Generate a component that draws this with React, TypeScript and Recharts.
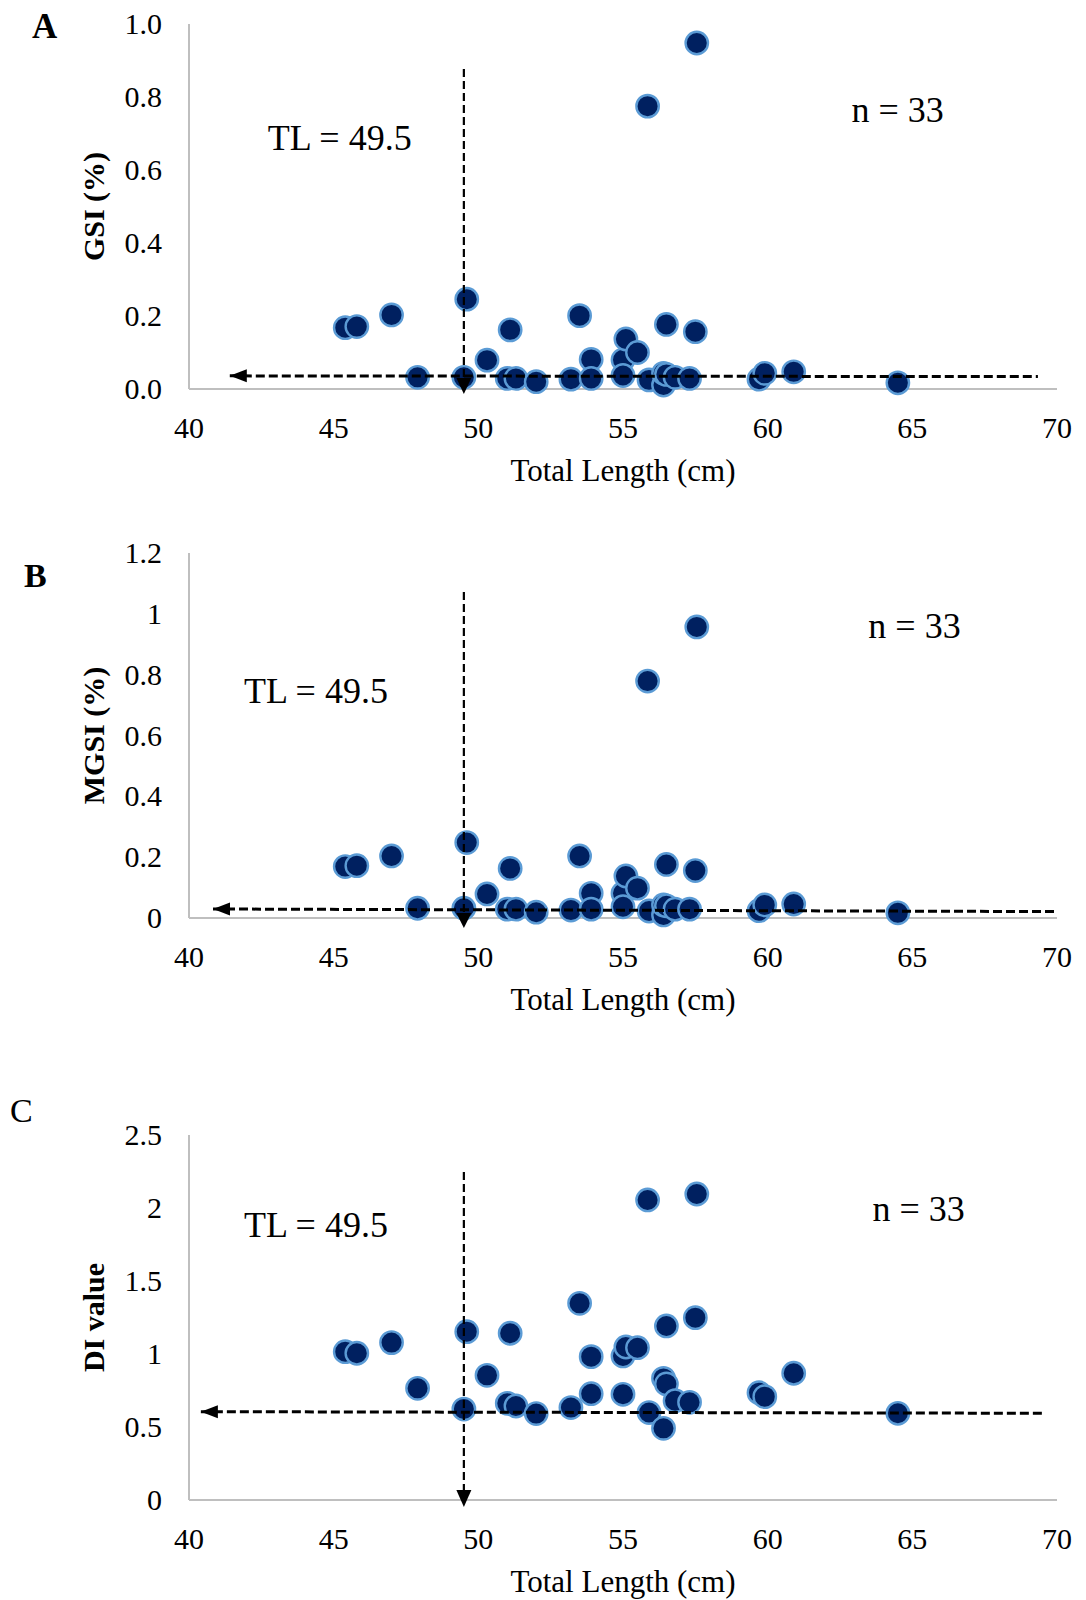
import React from 'react';
import {
  ScatterChart,
  Scatter,
  XAxis,
  YAxis,
  ReferenceLine,
  ReferenceDot,
} from 'recharts';

// ---- data ----
const totalLength = [
  45.4, 45.8, 47.0, 47.9, 49.6, 49.5, 50.3, 51.1, 51.0, 51.3, 52.0, 53.2, 53.5,
  53.9, 53.9, 55.0, 55.1, 55.5, 55.0, 55.9, 55.85, 57.55, 56.4, 56.4, 56.5, 56.8,
  57.3, 56.5, 57.5, 59.7, 59.9, 60.9, 64.5,
];
const gsi = [
  0.168, 0.171, 0.203, 0.032, 0.246, 0.032, 0.079, 0.162, 0.029, 0.029, 0.02,
  0.027, 0.201, 0.081, 0.029, 0.08, 0.137, 0.1, 0.037, 0.025, 0.775, 0.948,
  0.011, 0.043, 0.04, 0.032, 0.029, 0.177, 0.157, 0.027, 0.043, 0.047, 0.017,
];
const mgsi = [
  0.169, 0.172, 0.204, 0.032, 0.248, 0.032, 0.079, 0.163, 0.029, 0.029, 0.019,
  0.026, 0.204, 0.081, 0.029, 0.081, 0.138, 0.098, 0.037, 0.023, 0.779, 0.957,
  0.01, 0.043, 0.04, 0.029, 0.029, 0.176, 0.156, 0.024, 0.043, 0.046, 0.017,
];
const diValue = [
  1.016, 1.005, 1.078, 0.765, 1.153, 0.623, 0.854, 1.142, 0.662, 0.644, 0.592,
  0.633, 1.347, 0.982, 0.728, 0.987, 1.048, 1.043, 0.724, 0.599, 2.055, 2.096,
  0.491, 0.833, 0.795, 0.68, 0.669, 1.192, 1.249, 0.735, 0.708, 0.868, 0.594,
];

const xTicks = [40, 45, 50, 55, 60, 65, 70];
const gsiTicks = [0, 0.2, 0.4, 0.6, 0.8, 1.0];
const mgsiTicks = [0, 0.2, 0.4, 0.6, 0.8, 1, 1.2];
const diTicks = [0, 0.5, 1, 1.5, 2, 2.5];

const maturityTL = 49.5;

const FONT = "'Liberation Serif', 'Times New Roman', serif";
const FILL = '#002060';
const EDGE = '#5B9BD5';
const AXIS = '#BFBFBF';

const toPoints = (ys: number[]) => totalLength.map((x, i) => ({ x, y: ys[i] }));

const Marker = (props: any) => {
  const { cx, cy } = props;
  if (cx == null || cy == null) return null;
  return <circle cx={cx} cy={cy} r={11.2} fill={FILL} stroke={EDGE} strokeWidth={2.4} />;
};

const XTick = (props: any) => {
  const { x, y, payload } = props;
  return (
    <text x={x} y={y + 49} textAnchor="middle" fontFamily={FONT} fontSize={30} fill="#000">
      {payload.value}
    </text>
  );
};

const makeYTick = (fmt: (v: number) => string) => (props: any) => {
  const { y, payload } = props;
  return (
    <text x={162} y={y + 10} textAnchor="end" fontFamily={FONT} fontSize={30} fill="#000">
      {fmt(payload.value)}
    </text>
  );
};

const xTitle = (props: any) => {
  const vb = props.viewBox || {};
  return (
    <text x={vb.x + vb.width / 2} y={vb.y + 92} textAnchor="middle" fontFamily={FONT} fontSize={31} fill="#000">
      Total Length (cm)
    </text>
  );
};

const makeYTitle = (label: string) => (props: any) => {
  const vb = props.viewBox || {};
  const cy = vb.y + vb.height / 2;
  return (
    <text
      x={104}
      y={cy}
      transform={`rotate(-90 104 ${cy})`}
      textAnchor="middle"
      fontFamily={FONT}
      fontSize={30}
      fontWeight="bold"
      fill="#000"
    >
      {label}
    </text>
  );
};

const textShape = (label: string) => (props: any) => {
  const { cx, cy } = props;
  return (
    <text x={cx} y={cy} textAnchor="start" fontFamily={FONT} fontSize={36} fill="#000">
      {label}
    </text>
  );
};

const downArrow = (up: number, down: number) => (props: any) => {
  const { cx, cy } = props;
  return (
    <polygon
      points={`${cx - 7.5},${cy - up} ${cx + 7.5},${cy - up} ${cx},${cy + down}`}
      fill="#000"
    />
  );
};

const leftArrow = (props: any) => {
  const { cx, cy } = props;
  return <polygon points={`${cx},${cy} ${cx + 17},${cy - 6.5} ${cx + 17},${cy + 6.5}`} fill="#000" />;
};

type PanelProps = {
  top: number;
  height: number;
  marginTop: number;
  ys: number[];
  domainMax: number;
  ticks: number[];
  fmt: (v: number) => string;
  yLabel: string;
  vTop: number;
  arrowUp: number;
  arrowDown: number;
  hLeft: { x: number; y: number };
  hRight: { x: number; y: number };
  tlPos: { x: number; y: number };
  nPos: { x: number; y: number };
};

const Panel = (p: PanelProps) => {
  const bottomSpace = p.height - p.marginTop - 365;
  return (
    <div style={{ position: 'absolute', left: 0, top: p.top, width: 1086, height: p.height }}>
      <ScatterChart
        width={1086}
        height={p.height}
        margin={{ top: p.marginTop, right: 29, bottom: bottomSpace - 60, left: 0 }}
      >
        <XAxis
          type="number"
          dataKey="x"
          domain={[40, 70]}
          ticks={xTicks}
          tick={<XTick />}
          tickLine={false}
          tickSize={0}
          tickMargin={0}
          height={60}
          axisLine={{ stroke: AXIS, strokeWidth: 2 }}
          label={{ content: xTitle }}
          interval={0}
        />
        <YAxis
          type="number"
          dataKey="y"
          domain={[0, p.domainMax]}
          ticks={p.ticks}
          tick={makeYTick(p.fmt)}
          tickLine={false}
          tickSize={0}
          tickMargin={0}
          width={189}
          axisLine={{ stroke: AXIS, strokeWidth: 2 }}
          label={{ content: makeYTitle(p.yLabel) }}
          interval={0}
        />
        <Scatter data={toPoints(p.ys)} shape={Marker} isAnimationActive={false} />
        <ReferenceLine
          segment={[
            { x: maturityTL, y: p.vTop },
            { x: maturityTL, y: 0 },
          ]}
          stroke="#000"
          strokeWidth={2.2}
          strokeDasharray="8 4"
          ifOverflow="visible"
          zIndex={1000}
        />
        <ReferenceLine
          segment={[p.hLeft, p.hRight]}
          stroke="#000"
          strokeWidth={3}
          strokeDasharray="9 4"
          ifOverflow="visible"
          zIndex={1000}
        />
        <ReferenceDot
          x={maturityTL}
          y={0}
          r={1}
          shape={downArrow(p.arrowUp, p.arrowDown)}
          ifOverflow="visible"
          zIndex={1001}
        />
        <ReferenceDot x={p.hLeft.x} y={p.hLeft.y} r={1} shape={leftArrow} ifOverflow="visible" zIndex={1001} />
        <ReferenceDot x={p.tlPos.x} y={p.tlPos.y} r={1} shape={textShape('TL = 49.5')} ifOverflow="visible" zIndex={1001} />
        <ReferenceDot x={p.nPos.x} y={p.nPos.y} r={1} shape={textShape('n = 33')} ifOverflow="visible" zIndex={1001} />
      </ScatterChart>
    </div>
  );
};

export default function App() {
  return (
    <div style={{ position: 'absolute', left: 0, top: 0, width: 1086, height: 1600, background: '#fff' }}>
      <Panel
        top={0}
        height={530}
        marginTop={24}
        ys={gsi}
        domainMax={1}
        ticks={gsiTicks}
        fmt={(v) => v.toFixed(1)}
        yLabel="GSI (%)"
        vTop={0.877}
        arrowUp={11}
        arrowDown={5}
        hLeft={{ x: 41.41, y: 0.036 }}
        hRight={{ x: 69.34, y: 0.034 }}
        tlPos={{ x: 42.72, y: 0.655 }}
        nPos={{ x: 62.9, y: 0.7315 }}
      />
      <Panel
        top={530}
        height={530}
        marginTop={23}
        ys={mgsi}
        domainMax={1.2}
        ticks={mgsiTicks}
        fmt={(v) => String(v)}
        yLabel="MGSI (%)"
        vTop={1.072}
        arrowUp={5}
        arrowDown={10}
        hLeft={{ x: 40.83, y: 0.0296 }}
        hRight={{ x: 70, y: 0.021 }}
        tlPos={{ x: 41.9, y: 0.707 }}
        nPos={{ x: 63.48, y: 0.9206 }}
      />
      <Panel
        top={1060}
        height={540}
        marginTop={75}
        ys={diValue}
        domainMax={2.5}
        ticks={diTicks}
        fmt={(v) => String(v)}
        yLabel="DI value"
        vTop={2.247}
        arrowUp={10}
        arrowDown={7}
        hLeft={{ x: 40.41, y: 0.605 }}
        hRight={{ x: 69.55, y: 0.594 }}
        tlPos={{ x: 41.9, y: 1.801 }}
        nPos={{ x: 63.62, y: 1.911 }}
      />
      <svg
        width={1086}
        height={1600}
        style={{ position: 'absolute', left: 0, top: 0, pointerEvents: 'none' }}
      >
        <text x={32} y={38} fontFamily={FONT} fontSize={35} fontWeight="bold" fill="#000">
          A
        </text>
        <text x={24} y={587} fontFamily={FONT} fontSize={34} fontWeight="bold" fill="#000">
          B
        </text>
        <text x={10} y={1122} fontFamily={FONT} fontSize={34} fill="#000">
          C
        </text>
      </svg>
    </div>
  );
}
